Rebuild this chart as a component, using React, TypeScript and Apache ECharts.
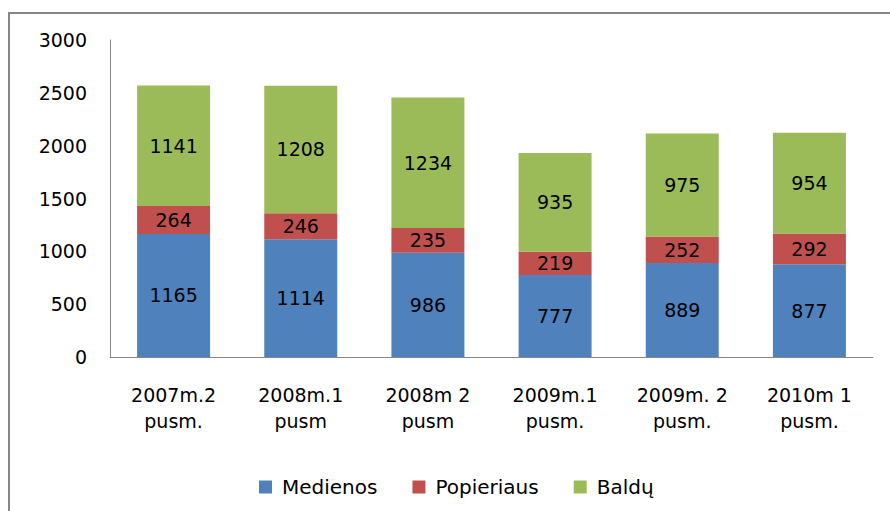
import React, { useEffect, useRef } from "react";
import * as echarts from "echarts";

const categories = [
  "2007m.2\npusm.",
  "2008m.1\npusm",
  "2008m 2\npusm",
  "2009m.1\npusm.",
  "2009m. 2\npusm.",
  "2010m 1\npusm.",
];
const medienos = [1165, 1114, 986, 777, 889, 877];
const popieriaus = [264, 246, 235, 219, 252, 292];
const baldu = [1141, 1208, 1234, 935, 975, 954];
const seriesNames = ["Medienos", "Popieriaus", "Baldų"];
const colors = ["#4F81BD", "#C0504D", "#9BBB59"];

const FONT = "DejaVu Sans";

export default function App() {
  const ref = useRef<HTMLDivElement>(null);
  useEffect(() => {
    if (!ref.current) return;
    const chart = echarts.init(ref.current, null, { renderer: "svg" });
    const mk = (name: string, data: number[], color: string) => ({
      name,
      type: "bar",
      stack: "total",
      data,
      barWidth: "57.4%",
      itemStyle: { color },
      label: {
        show: true,
        position: "inside",
        color: "#000",
        fontFamily: FONT,
        fontSize: 19,
      },
    });
    chart.setOption({
      animation: false,
      backgroundColor: "#fff",
      graphic: [
        {
          type: "rect",
          shape: { x: 9, y: 13, width: 900, height: 600 },
          style: { fill: "none", stroke: "#868686", lineWidth: 2 },
          silent: true,
        },
      ],
      grid: { left: 110, right: 17, top: 40, bottom: 154, containLabel: false },
      legend: {
        left: 254,
        top: 472,
        itemWidth: 13,
        itemHeight: 13,
        itemGap: 35,
        icon: "rect",
        textStyle: { fontFamily: FONT, fontSize: 20, color: "#000", padding: [0, 0, 0, 5] },
        data: seriesNames,
      },
      xAxis: {
        type: "category",
        data: categories,
        axisLine: { lineStyle: { color: "#868686", width: 1 } },
        axisTick: { show: false },
        axisLabel: {
          fontFamily: FONT,
          fontSize: 19,
          color: "#000",
          lineHeight: 26,
          margin: 25,
          interval: 0,
        },
      },
      yAxis: {
        type: "value",
        min: 0,
        max: 3000,
        interval: 500,
        splitLine: { show: false },
        axisLine: { show: true, lineStyle: { color: "#868686", width: 1 } },
        axisTick: { show: false },
        axisLabel: {
          fontFamily: FONT,
          fontSize: 19,
          color: "#000",
          margin: 23,
          formatter: (v: number) => String(v),
        },
      },
      series: [
        mk(seriesNames[0], medienos, colors[0]),
        mk(seriesNames[1], popieriaus, colors[1]),
        mk(seriesNames[2], baldu, colors[2]),
      ],
    });
    return () => chart.dispose();
  }, []);
  return (
    <div
      ref={ref}
      style={{ position: "fixed", left: 0, top: 0, width: 890, height: 511 }}
    />
  );
}
